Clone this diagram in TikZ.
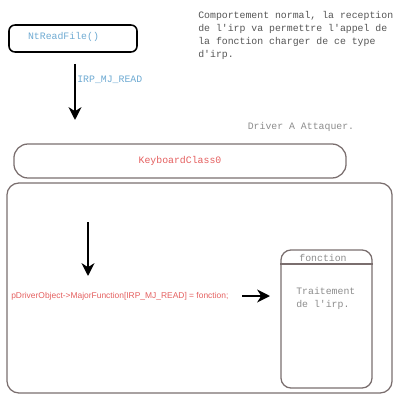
\documentclass[tikz,border=0pt]{standalone}
\usepackage{fontspec}
\setmonofont{Liberation Mono}
\newfontfamily\codefont{Liberation Sans}
\usetikzlibrary{arrows.meta}

\definecolor{bleuclair}{RGB}{110,170,210}
\definecolor{rougetexte}{RGB}{228,95,95}
\definecolor{grisbord}{RGB}{122,110,110}
\definecolor{gristexte}{RGB}{140,140,140}
\definecolor{grisfonce}{RGB}{85,85,85}

\begin{document}
\begin{tikzpicture}[x=0.025cm, y=-0.025cm,
		boite/.style={draw=grisbord, line width=0.9pt, inner sep=0pt},
		texte/.style={font=\ttfamily\fontsize{7}{9.2}\selectfont, inner sep=0pt},
		fleche/.style={line width=1.4pt, -{Stealth[length=3.2mm, width=3.2mm, inset=1mm]}}]
			\useasboundingbox (0,0) rectangle (400,400);
			\node[draw=black, line width=1.1pt, rounded corners=0.15cm, minimum width=3.2cm, minimum height=0.675cm] (ntread) at (73,38.5) {};
			\node[texte, text=bleuclair] (ntreadtxt) at (63.5,37) {NtReadFile()};
			\node[texte, text=grisfonce, anchor=north west, align=left] (comment) at (198,11) {Comportement normal, la reception\\de l'irp va permettre l'appel de\\la fonction charger de ce type\\d'irp.};
			\coordinate (irpdebut) at (75,64);
			\coordinate (irpfin) at (75,120);
			\draw[fleche] (irpdebut) -- (irpfin);
			\node[texte, text=bleuclair, anchor=west] (irptxt) at (77,80) {IRP\_MJ\_READ};
			\node[texte, text=gristexte] (driver) at (301,126.5) {Driver A Attaquer.};
			\node[boite, rounded corners=0.35cm, minimum width=8.3cm, minimum height=0.85cm, texte, text=rougetexte] (keyboard) at (180,161) {KeyboardClass0};
			\node[boite, rounded corners=0.3cm, minimum width=9.625cm, minimum height=5.25cm] (cadre) at (199.5,288) {};
			\coordinate (majdebut) at (88,222);
			\coordinate (majfin) at (88,276);
			\draw[fleche] (majdebut) -- (majfin);
			\node[anchor=west, inner sep=0pt, text=rougetexte, font=\codefont\fontsize{6}{7}\selectfont] (major) at (11,296.5) {pDriverObject->MajorFunction[IRP\_MJ\_READ] = fonction;};
			\coordinate (appeldebut) at (242,296);
			\coordinate (appelfin) at (270,296);
			\draw[fleche] (appeldebut) -- (appelfin);
			\node[boite, rounded corners=0.25cm, minimum width=2.275cm, minimum height=3.45cm] (fonction) at (326.5,319) {};
			\draw[draw=grisbord, line width=0.9pt] (fonction.west |- 0,264) -- (fonction.east |- 0,264);
			\node[texte, text=gristexte] (fonctiontxt) at (323,257.5) {fonction};
			\node[texte, text=gristexte, anchor=north west, align=left] (traitement) at (296,287) {Traitement\\de l'irp.};
\end{tikzpicture}
\end{document}
